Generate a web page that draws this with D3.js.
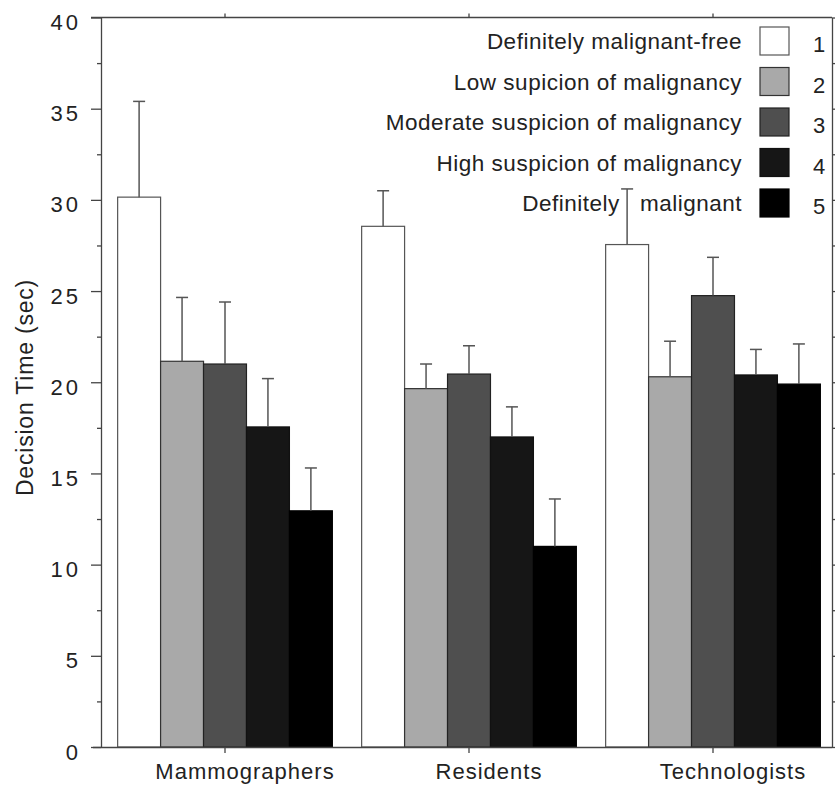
<!DOCTYPE html>
<html>
<head>
<meta charset="utf-8">
<script src="https://cdn.jsdelivr.net/npm/d3@7"></script>
<style>
  html, body { margin: 0; padding: 0; background: #fff; }
  svg { display: block; font-family: "Liberation Sans", Arial, Helvetica, sans-serif; }
  .axis path, .axis line { stroke: #444; stroke-width: 1.3; }
</style>
</head>
<body>
<svg id="chart" width="835" height="785"></svg>
<script>
// ---------- data ----------
const groups = ["Mammographers", "Residents", "Technologists"];
const levels = ["Definitely malignant-free", "Low supicion of malignancy",
                "Moderate suspicion of malignancy", "High suspicion of malignancy",
                "Definitely   malignant"];
const levelCodes = ["1", "2", "3", "4", "5"];
const meanMammographers = [30.15, 21.15, 21.0, 17.55, 12.95];
const meanResidents     = [28.55, 19.65, 20.45, 17.0, 11.0];
const meanTechnologists = [27.55, 20.3, 24.75, 20.4, 19.9];
const errMammographers  = [35.4, 24.65, 24.4, 20.2, 15.3];
const errResidents      = [30.5, 21.0, 22.0, 18.65, 13.6];
const errTechnologists  = [30.6, 22.25, 26.85, 21.8, 22.1];
const yTicks = [0, 5, 10, 15, 20, 25, 30, 35, 40];
const yMinorTicks = [2.5, 7.5, 12.5, 17.5, 22.5, 27.5, 32.5, 37.5];
const yAllTicks = [0, 2.5, 5, 7.5, 10, 12.5, 15, 17.5, 20, 22.5, 25, 27.5, 30, 32.5, 35, 37.5, 40];
const yLabel = "Decision Time (sec)";

const means = [meanMammographers, meanResidents, meanTechnologists];
const errs  = [errMammographers, errResidents, errTechnologists];
const fills   = ["#ffffff", "#a9a9a9", "#4f4f4f", "#161616", "#000000"];
const strokes = ["#555555", "#333333", "#222222", "#111111", "#000000"];

// ---------- layout ----------
const svg = d3.select("#chart");
const pLeft = 101, pRight = 832, pTop = 17.5, pBottom = 747;

const x0 = d3.scaleBand().domain(groups).range([103, 835])
  .paddingInner(0.12).paddingOuter(0.06);
const x1 = d3.scaleBand().domain(d3.range(levels.length)).range([0, x0.bandwidth()]).padding(0);
const y = d3.scaleLinear().domain([0, 40]).range([pBottom, pTop]);

// ---------- bars ----------
const rows = [];
groups.forEach((g, gi) => levels.forEach((l, li) => rows.push({g, li, v: means[gi][li], e: errs[gi][li]})));

const gBars = svg.append("g");
gBars.selectAll("rect").data(rows).join("rect")
  .attr("x", d => x0(d.g) + x1(d.li))
  .attr("y", d => y(d.v))
  .attr("width", x1.bandwidth())
  .attr("height", d => y(0) - y(d.v))
  .attr("fill", d => fills[d.li])
  .attr("stroke", d => strokes[d.li])
  .attr("stroke-width", 1.2);

// error bars (upper only)
const gErr = svg.append("g").attr("stroke", "#555").attr("stroke-width", 1.5);
rows.forEach(d => {
  const cx = x0(d.g) + x1(d.li) + x1.bandwidth() / 2;
  gErr.append("line").attr("x1", cx).attr("x2", cx).attr("y1", y(d.v)).attr("y2", y(d.e));
  gErr.append("line").attr("x1", cx - 6).attr("x2", cx + 6).attr("y1", y(d.e)).attr("y2", y(d.e));
});

// ---------- axes ----------
const axL = svg.append("g").attr("class", "axis").attr("transform", `translate(${pLeft},0)`)
  .call(d3.axisLeft(y).tickValues(yTicks).tickSize(10).tickPadding(10).tickSizeOuter(0));
axL.selectAll("text").attr("font-size", 22).attr("fill", "#222")
  .attr("letter-spacing", 3).attr("dy", "0.55em")
  .style("font-family", "'Liberation Sans', Arial, sans-serif");
svg.append("g").attr("class", "axis").attr("transform", `translate(${pLeft},0)`)
  .call(d3.axisLeft(y).tickValues(yMinorTicks).tickSize(4).tickFormat("").tickSizeOuter(0))
  .select(".domain").remove();
svg.append("g").attr("class", "axis").attr("transform", `translate(${pRight},0)`)
  .call(d3.axisRight(y).tickValues(yAllTicks).tickSize(4).tickFormat("").tickSizeOuter(0));
const axB = svg.append("g").attr("class", "axis").attr("transform", `translate(0,${pBottom})`)
  .call(d3.axisBottom(x0).tickSize(6).tickPadding(10).tickSizeOuter(0));
axB.select(".domain").attr("d", `M${pLeft - 8},0.5H${pRight}`);
axB.selectAll("text").attr("font-size", 22).attr("fill", "#222")
  .attr("letter-spacing", 1).attr("dx", 20)
  .style("font-family", "'Liberation Sans', Arial, sans-serif");
const axT = svg.append("g").attr("class", "axis").attr("transform", `translate(0,${pTop})`)
  .call(d3.axisTop(x0).tickSize(4).tickFormat("").tickSizeOuter(0));
axT.select(".domain").attr("d", `M${pLeft - 10},0H${pRight}`);

// y label
svg.append("text")
  .attr("transform", `translate(33,${(278 + 497) / 2}) rotate(-90)`)
  .attr("text-anchor", "middle")
  .attr("font-size", 23).attr("letter-spacing", 0.8).attr("fill", "#222")
  .text(yLabel);

// ---------- legend ----------
const legend = svg.append("g");
const rowH = 40.5;
levels.forEach((l, i) => {
  const yy = 27 + i * rowH;
  legend.append("text")
    .attr("x", 742).attr("y", yy + 22).attr("text-anchor", "end")
    .attr("font-size", 22.5).attr("letter-spacing", 0.5).attr("fill", "#222")
    .style("white-space", "pre")
    .text(l);
  legend.append("rect")
    .attr("x", 760).attr("y", yy).attr("width", 29).attr("height", 28)
    .attr("fill", fills[i]).attr("stroke", strokes[i]).attr("stroke-width", 1.2);
  legend.append("text")
    .attr("x", 819).attr("y", yy + 25).attr("text-anchor", "middle")
    .attr("font-size", 22).attr("fill", "#222")
    .text(levelCodes[i]);
});
</script>
</body>
</html>
